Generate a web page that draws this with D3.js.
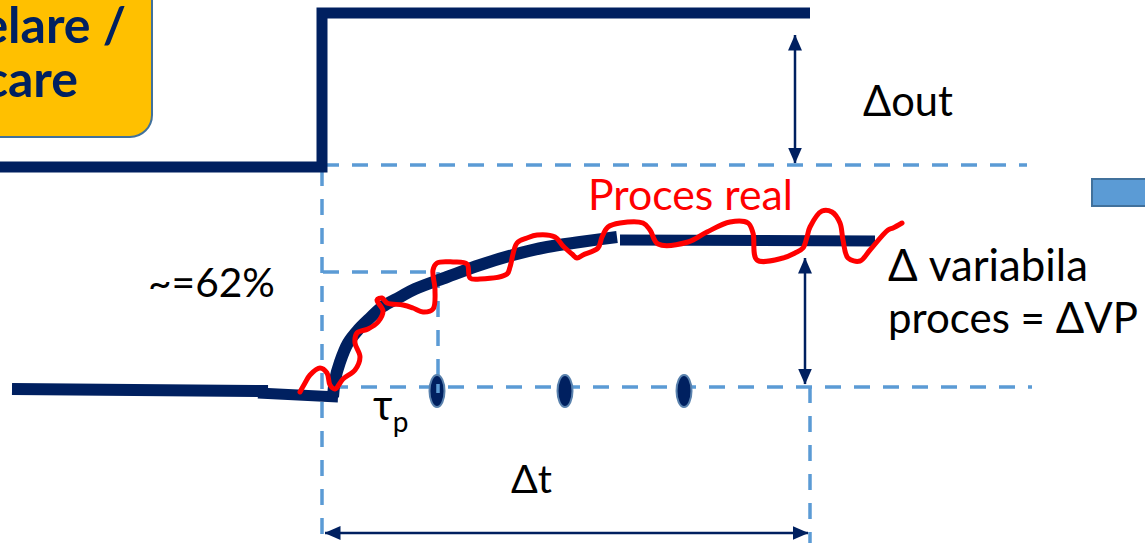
<!DOCTYPE html>
<html><head><meta charset="utf-8">
<script src="https://cdn.jsdelivr.net/npm/d3@7"></script>
<style>html,body{margin:0;padding:0;background:#fff;overflow:hidden}svg{display:block}</style>
</head><body>
<svg id="c" width="1145" height="543"></svg>
<script>
// ---------- data (time units t, process units v) ----------
const outStepT = [0, 32.2, 32.2, 81.0];
const outStepV = [22.0, 22.0, 37.4, 37.4];

const vpBeforeT = [1.2, 26.8];
const vpBeforeV = [-0.2, -0.4];
const vpLagT = [25.8, 33.8];
const vpLagV = [-0.6, -1.0];
const vpRiseT = [33.3, 33.5, 34.0, 34.8, 35.8, 37.0, 38.2, 40.0, 41.5, 44.7, 48.0, 51.3, 54.7, 58.0, 61.7];
const vpRiseV = [-1.0, 0.7, 2.5, 4.4, 5.7, 6.9, 8.0, 9.0, 9.8, 11.0, 12.2, 13.2, 14.0, 14.5, 15.0];
const vpFlatT = [62.0, 87.5];
const vpFlatV = [14.7, 14.6];

const realT = [30.0,30.5,31.0,32.0,32.7,33.0,33.5,34.3,35.5,36.0,35.5,35.7,36.8,37.8,38.3,37.7,38.2,38.7,40.3,41.3,42.3,43.3,43.5,43.3,43.7,45.3,46.7,47.0,48.0,50.7,51.0,51.7,52.7,53.7,55.5,56.3,57.2,57.7,58.3,59.8,60.2,60.8,62.0,64.3,65.0,65.8,68.8,70.7,73.0,74.8,75.3,75.7,78.3,79.5,80.3,80.7,81.0,82.2,83.2,84.0,84.3,84.8,86.0,87.0,88.8,89.3,90.2];
const realV = [-0.5,0.4,1.2,1.9,1.4,0.2,-0.2,0.8,1.7,3.0,4.4,5.4,5.8,6.5,7.6,8.7,8.9,8.4,8.2,7.9,7.5,7.8,9.7,11.7,12.4,12.5,12.3,10.9,10.8,11.3,12.0,14.4,14.9,15.2,15.0,14.1,13.3,12.9,13.2,13.9,15.0,16.0,16.4,16.4,15.7,14.3,14.5,15.5,16.5,16.4,15.4,12.7,12.9,13.4,13.9,15.0,16.0,17.6,17.5,16.4,14.7,12.9,12.6,13.7,15.7,15.9,16.4];

const markerT = [43.7, 56.5, 68.4];
const markerV = [-0.4, -0.4, -0.4];

// dashed reference lines: [t1, v1, t2, v2]
const refLines = [
  [32.3, 22.2, 102.7, 22.2],   // output step level
  [32.2, 21.7, 32.2, -15.6],   // step instant
  [32.3, 11.5, 43.7, 11.5],    // ~62% level
  [43.8, 11.5, 43.8, -0.3],    // time constant
  [33.2, 0.0, 103.2, 0.0],     // initial VP level
  [81.0, 0.0, 81.0, -15.6]     // end of Δt
];
// double arrows: [t1, v1, t2, v2]
const arrows = [
  [79.5, 35.2, 79.5, 22.4],    // Δout
  [80.5, 12.9, 80.5, 0.3],     // ΔVP
  [32.5, -14.6, 80.8, -14.6]   // Δt
];

const boxT = [-3.0, 15.2], boxV = [25.0, 41.7];       // yellow note box
const blueT = [109.2, 115.5], blueV = [20.8, 18.1];    // blue block at right

// labels: text, t, v (baseline), target width (time units)
const labels = [
  {text:"Δout", t:86.3, v:27.1, w:9.0, color:"#000"},
  {text:"Proces real", t:58.8, v:17.7, w:20.5, color:"#FF0000"},
  {text:"~=62%", t:14.8, v:9.0, w:12.7, color:"#000"},
  {text:"Δ variabila", t:88.8, v:10.6, w:20.0, color:"#000"},
  {text:"proces = ΔVP", t:88.8, v:5.4, w:25.0, color:"#000"},
  {text:"Δt", t:51.1, v:-10.6, w:4.1, color:"#000"}
];
const boxLabels = [
  {text:"elare /", t:12.6, v:34.4},
  {text:"care", t:7.8, v:29.0}
];
const tauLabel = {t:37.3, v:-3.3};

// ---------- scales ----------
const W = 1145, H = 543;
const x = d3.scaleLinear().domain([0, 114.5]).range([0, W]);
const y = d3.scaleLinear().domain([-15.6, 38.7]).range([H, 0]);
const svg = d3.select("#c");
const NAVY = "#002060", DASH = "#5B9BD5", FONT = "Lato, 'Open Sans', 'DejaVu Sans', sans-serif";

svg.append("rect").attr("width", W).attr("height", H).attr("fill", "#fff");

const defs = svg.append("defs");
defs.append("marker").attr("id","ah").attr("viewBox","0 0 16 14")
  .attr("refX",15.5).attr("refY",7).attr("markerWidth",16).attr("markerHeight",14)
  .attr("markerUnits","userSpaceOnUse").attr("orient","auto-start-reverse")
  .append("path").attr("d","M0,0 L16,7 L0,14 Z").attr("fill",NAVY);

const zip = (T, V) => T.map((t, i) => [t, V[i]]);
const line = d3.line().x(d => x(d[0])).y(d => y(d[1]));

// yellow box
svg.append("rect")
  .attr("x", x(boxT[0])).attr("y", y(boxV[1]))
  .attr("width", x(boxT[1]) - x(boxT[0])).attr("height", y(boxV[0]) - y(boxV[1]))
  .attr("rx", 22).attr("ry", 22)
  .attr("fill", "#FFC000").attr("stroke", "#41719C").attr("stroke-width", 2);
boxLabels.forEach(d => svg.append("text").text(d.text)
  .attr("x", x(d.t)).attr("y", y(d.v)).attr("text-anchor","end")
  .attr("font-family", FONT).attr("font-weight", 700).attr("font-size", 50).attr("fill", NAVY));

// blue block
svg.append("rect")
  .attr("x", x(blueT[0])).attr("y", y(blueV[0]))
  .attr("width", x(blueT[1]) - x(blueT[0])).attr("height", y(blueV[1]) - y(blueV[0]))
  .attr("fill", "#5B9BD5").attr("stroke", "#41719C").attr("stroke-width", 2);

// dashed reference lines
svg.append("g").selectAll("line").data(refLines).join("line")
  .attr("x1", d => x(d[0])).attr("y1", d => y(d[1]))
  .attr("x2", d => x(d[2])).attr("y2", d => y(d[3]))
  .attr("stroke", DASH).attr("stroke-width", 3.5).attr("stroke-dasharray", "16,13");

// output step
svg.append("path").datum(zip(outStepT, outStepV)).attr("d", line)
  .attr("fill","none").attr("stroke",NAVY).attr("stroke-width",11).attr("stroke-linejoin","miter");

// process variable (ideal response)
[[vpBeforeT,vpBeforeV,12],[vpLagT,vpLagV,11],[vpFlatT,vpFlatV,11]].forEach(([T,V,sw]) =>
  svg.append("path").datum(zip(T,V)).attr("d", line)
    .attr("fill","none").attr("stroke",NAVY).attr("stroke-width",sw));
svg.append("path").datum(zip(vpRiseT, vpRiseV))
  .attr("d", d3.line().x(d => x(d[0])).y(d => y(d[1])).curve(d3.curveCatmullRom))
  .attr("fill","none").attr("stroke",NAVY).attr("stroke-width",12);

// time markers
svg.append("g").selectAll("ellipse").data(zip(markerT, markerV)).join("ellipse")
  .attr("cx", d => x(d[0])).attr("cy", d => y(d[1])).attr("rx", 7.5).attr("ry", 16)
  .attr("fill", NAVY).attr("stroke", "#5A82AE").attr("stroke-width", 2);
// dashed line visible through first marker
svg.append("line").attr("x1", x(refLines[3][0])).attr("x2", x(refLines[3][0]))
  .attr("y1", y(markerV[0]) - 7).attr("y2", y(markerV[0]) + 2)
  .attr("stroke", DASH).attr("stroke-width", 3.5);

// real process (noisy)
svg.append("path").datum(zip(realT, realV))
  .attr("d", d3.line().x(d => x(d[0])).y(d => y(d[1])).curve(d3.curveCatmullRom.alpha(0.5)))
  .attr("fill","none").attr("stroke","#FF0000").attr("stroke-width",5)
  .attr("stroke-linejoin","round").attr("stroke-linecap","round");

// arrows
svg.append("g").selectAll("line").data(arrows).join("line")
  .attr("x1", d => x(d[0])).attr("y1", d => y(d[1]))
  .attr("x2", d => x(d[2])).attr("y2", d => y(d[3]))
  .attr("stroke", NAVY).attr("stroke-width", 2.5)
  .attr("marker-start","url(#ah)").attr("marker-end","url(#ah)");

// labels, sized to the measured width
labels.forEach(d => {
  const t = svg.append("text").text(d.text)
    .attr("x", x(d.t)).attr("y", y(d.v))
    .attr("font-family", FONT).attr("font-size", 40).attr("fill", d.color);
  const len = t.node().getComputedTextLength();
  const target = x(d.w) - x(0);
  t.attr("font-size", Math.min(48, Math.max(30, 40 * target / len)));
});

// tau_p
const tau = svg.append("text").attr("x", x(tauLabel.t)).attr("y", y(tauLabel.v))
  .attr("font-family", FONT).attr("font-size", 42).attr("fill", "#000");
tau.append("tspan").text("τ");
tau.append("tspan").text("p").attr("font-size", 28).attr("dy", 12);
</script>
</body></html>
